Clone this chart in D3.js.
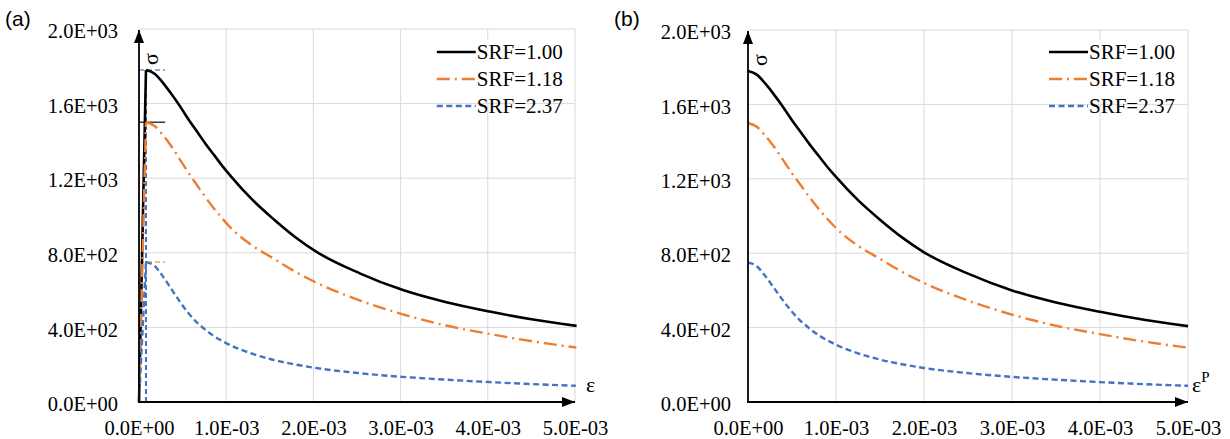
<!DOCTYPE html>
<html>
<head>
<meta charset="utf-8">
<script src="https://cdn.jsdelivr.net/npm/d3@7"></script>
<style>
  body { margin: 0; background: #fff; }
  svg text { font-family: "Liberation Serif", "Times New Roman", serif; fill: #000; }
  .panel-tag { font-family: "Liberation Sans", Arial, sans-serif; font-size: 21px; }
  .tick text { font-size: 20.5px; }
  .legend text { font-size: 21px; }
</style>
</head>
<body>
<div id="chart"></div>
<script>
// Data (stress vs plastic strain)

const strainTicks = [0, 1e-3, 2e-3, 3e-3, 4e-3, 5e-3];
const stressTicks = [0, 400, 800, 1200, 1600, 2000];

const plasticStrain = [0, 0.1e-3, 0.2e-3, 0.3e-3, 0.4e-3, 0.5e-3, 0.6e-3, 0.7e-3, 0.8e-3, 0.9e-3,
    1.0e-3, 1.25e-3, 1.5e-3, 1.75e-3, 2.0e-3, 2.5e-3, 3.0e-3, 3.5e-3, 4.0e-3, 4.5e-3, 5.0e-3];

const stressSRF100 = [1780, 1760, 1710, 1650, 1585, 1515, 1450, 1385, 1325, 1265,
    1210, 1085, 980, 885, 805, 690, 600, 535, 485, 442, 408];
const stressSRF118 = [1500, 1480, 1430, 1370, 1300, 1230, 1165, 1100, 1040, 985,
    935, 840, 770, 700, 640, 545, 470, 410, 365, 325, 292];
const stressSRF237 = [750, 730, 675, 610, 545, 485, 435, 395, 360, 332,
    308, 262, 228, 203, 183, 155, 135, 120, 107, 96, 87];

const seriesNames = ['SRF=1.00', 'SRF=1.18', 'SRF=2.37'];
const seriesStress = [stressSRF100, stressSRF118, stressSRF237];

// panel a: every curve peaks at about 0.08E-03 total strain
const peakStrain = 0.08e-3;

// Styles

const seriesStyle = [
    {color: '#000000', dash: null, width: 2.6},
    {color: '#ED7D31', dash: '13,5,2,5', width: 2.4},
    {color: '#4472C4', dash: '6,3.5', width: 2.4}
];

const width = 1230;
const height = 439;

const panels = [
    {tag: '(a)', xLabel: 'ε', sup: '', labelGap: 11, left: 139, right: 575, top: 29, bottom: 402, tickGap: 21, total: true},
    {tag: '(b)', xLabel: 'ε', sup: 'P', labelGap: 4, left: 748, right: 1188, top: 30, bottom: 402, tickGap: 17, total: false}
];

const svg = d3.select('#chart')
    .append('svg')
    .attr('width', width)
    .attr('height', height);

svg.append('defs')
    .append('marker')
    .attr('id', 'arrow')
    .attr('viewBox', '0 0 13 10')
    .attr('refX', 13)
    .attr('refY', 5)
    .attr('markerWidth', 13)
    .attr('markerHeight', 10)
    .attr('markerUnits', 'userSpaceOnUse')
    .attr('orient', 'auto')
    .append('path')
    .attr('d', 'M0,0 L13,5 L0,10 Z')
    .attr('fill', '#000');

const tickFormat = d => {
    const [m, e] = d.toExponential(1).split('e');
    const sign = e[0] === '-' ? '-' : '+';
    const digits = e.replace(/[+-]/, '').padStart(2, '0');
    return `${m}E${sign}${digits}`;
};

// total strain = plastic strain + elastic part (scaled to the peak)
function seriesPoints(stress, total) {
    return plasticStrain.map((ep, i) => ({
        x: total ? ep + peakStrain * stress[i] / stress[0] : ep,
        y: stress[i]
    }));
}

function drawPanel(p) {
    const xScale = d3.scaleLinear().domain([0, 5e-3]).range([p.left, p.right]);
    const yScale = d3.scaleLinear().domain([0, 2000]).range([p.bottom, p.top]);
    const g = svg.append('g');

    // grid
    g.append('g').selectAll('line.h')
        .data(stressTicks.filter(d => d > 0))
        .join('line')
        .attr('x1', p.left).attr('x2', p.right)
        .attr('y1', d => yScale(d)).attr('y2', d => yScale(d))
        .attr('stroke', '#d9d9d9').attr('stroke-width', 1);
    g.append('g').selectAll('line.v')
        .data(strainTicks.filter(d => d > 0))
        .join('line')
        .attr('x1', d => xScale(d)).attr('x2', d => xScale(d))
        .attr('y1', p.top).attr('y2', p.bottom)
        .attr('stroke', '#d9d9d9').attr('stroke-width', 1);

    // tick labels
    g.append('g')
        .attr('transform', `translate(0,${p.bottom})`)
        .call(d3.axisBottom(xScale).tickValues(strainTicks).tickFormat(tickFormat).tickSize(0).tickPadding(18))
        .call(a => a.select('.domain').remove())
        .selectAll('text').style('font-family', '"Liberation Serif", serif');
    g.append('g')
        .attr('transform', `translate(${p.left},0)`)
        .call(d3.axisLeft(yScale).tickValues(stressTicks).tickFormat(tickFormat).tickSize(0).tickPadding(p.tickGap))
        .call(a => a.select('.domain').remove())
        .selectAll('text').attr('dy', '0.42em').style('font-family', '"Liberation Serif", serif');

    // panel a: peak guide marks near the axis
    if (p.total) {
        const peaks = seriesStress.map(s => s[0]);
        const guideColor = ['#5B9BD5', '#404040', '#F4B183'];
        const guideDash = ['5,3', null, '5,3'];
        g.append('g').selectAll('line')
            .data(peaks)
            .join('line')
            .attr('x1', xScale(0)).attr('x2', xScale(0.3e-3))
            .attr('y1', d => yScale(d)).attr('y2', d => yScale(d))
            .attr('stroke', (d, i) => guideColor[i])
            .attr('stroke-dasharray', (d, i) => guideDash[i])
            .attr('stroke-width', 1.6);
        g.append('line')
            .attr('x1', xScale(peakStrain)).attr('x2', xScale(peakStrain))
            .attr('y1', yScale(0)).attr('y2', yScale(peaks[0]))
            .attr('stroke', '#4472C4').attr('stroke-dasharray', '5,3').attr('stroke-width', 2);
    }

    // curves
    const line = d3.line()
        .x(d => xScale(d.x))
        .y(d => yScale(d.y))
        .curve(d3.curveMonotoneX);
    seriesStress.forEach((stress, i) => {
        const pts = seriesPoints(stress, p.total);
        const st = seriesStyle[i];
        if (p.total) {
            // elastic branch from the origin to the peak
            g.append('path')
                .datum([{x: 0, y: 0}, pts[0]])
                .attr('d', d3.line().x(d => xScale(d.x)).y(d => yScale(d.y)))
                .attr('fill', 'none')
                .attr('stroke', st.color)
                .attr('stroke-width', st.width)
                .attr('stroke-dasharray', st.dash);
        }
        g.append('path')
            .datum(pts)
            .attr('d', line)
            .attr('fill', 'none')
            .attr('stroke', st.color)
            .attr('stroke-width', st.width)
            .attr('stroke-dasharray', st.dash);
    });

    // axes with arrows
    g.append('line')
        .attr('x1', p.left).attr('x2', p.left)
        .attr('y1', p.bottom + 1).attr('y2', p.top + 1)
        .attr('stroke', '#000').attr('stroke-width', 1.8)
        .attr('marker-end', 'url(#arrow)');
    g.append('line')
        .attr('x1', p.left - 1).attr('x2', p.right)
        .attr('y1', p.bottom).attr('y2', p.bottom)
        .attr('stroke', '#000').attr('stroke-width', 1.8)
        .attr('marker-end', 'url(#arrow)');

    // axis titles
    g.append('text')
        .attr('transform', `translate(${p.left + 19},${p.top + 30}) rotate(-90)`)
        .attr('text-anchor', 'middle')
        .style('font-size', '22px')
        .text('σ');
    const xt = g.append('text')
        .attr('x', p.right + p.labelGap)
        .attr('y', p.bottom - 10)
        .style('font-size', '22px')
        .text(p.xLabel);
    if (p.sup) {
        xt.append('tspan').attr('dy', -10).style('font-size', '15px').text(p.sup);
    }

    // panel tag
    svg.append('text')
        .attr('class', 'panel-tag')
        .attr('x', p.left - 134)
        .attr('y', 26)
        .text(p.tag);

    // legend
    const legend = g.append('g').attr('class', 'legend');
    const lx = xScale(4e-3) - 51;
    legend.append('rect')
        .attr('x', lx - 4).attr('y', 40)
        .attr('width', 135).attr('height', 60)
        .attr('fill', '#fff');
    seriesNames.forEach((name, i) => {
        const ly = 52 + i * 27;
        legend.append('line')
            .attr('x1', lx).attr('x2', lx + 39)
            .attr('y1', ly).attr('y2', ly)
            .attr('stroke', seriesStyle[i].color)
            .attr('stroke-width', seriesStyle[i].width)
            .attr('stroke-dasharray', seriesStyle[i].dash);
        legend.append('text')
            .attr('x', lx + 40)
            .attr('y', ly)
            .attr('dy', '0.35em')
            .text(name);
    });
}

panels.forEach(drawPanel);
</script>
</body>
</html>
